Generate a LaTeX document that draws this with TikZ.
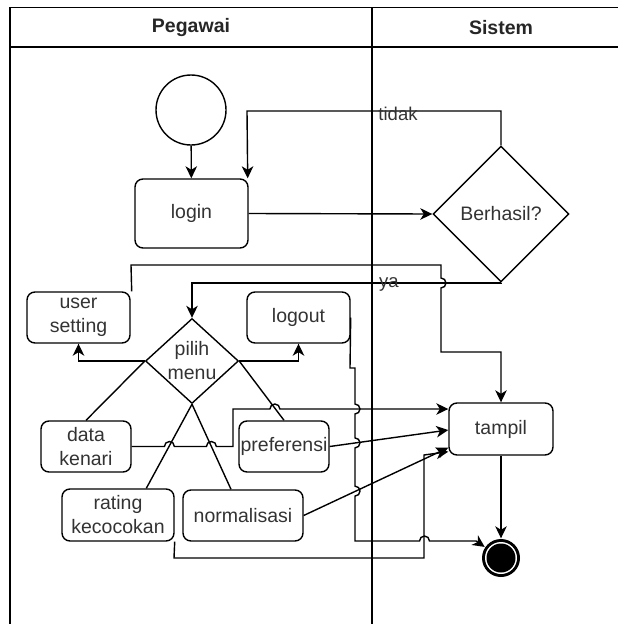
\documentclass[tikz,border=0pt]{standalone}
\usepackage{fontspec}
\setmainfont{Liberation Sans}
\usetikzlibrary{arrows.meta,shapes.geometric}

\begin{document}
\begin{tikzpicture}[x=1pt,y=-1pt,
  line width=1.4pt,
  every node/.style={font=\fontsize{19.5}{24}\selectfont, text=black!80},
  act/.style={draw, rounded corners=8pt, inner sep=0pt, align=center},
  dec/.style={draw, diamond, inner sep=0pt},
  flow/.style={-{Stealth[length=12pt,width=11.5pt,inset=3.5pt]}},
  lane/.style={line width=1.7pt},
  hdr/.style={font=\fontsize{19.5}{24}\selectfont\bfseries, text=black!85},
  elabel/.style={font=\fontsize{18.5}{22}\selectfont, inner sep=0pt, anchor=base},
]
\useasboundingbox (0,0) rectangle (618,624);

% swimlane frame
\begin{scope}
  \clip (0,0) rectangle (618,624);
  \draw[lane] (10,640) -- (10,7.5) -- (640,7.5);
  \draw[lane] (10,47) -- (640,47);
  \draw[lane] (372,7.5) -- (372,640);
\end{scope}
\node[hdr] (hpeg) at (191,27.5) {Pegawai};
\node[hdr] (hsis) at (501,27.5) {Sistem};

% activities
\node[draw, circle, minimum size=70pt, inner sep=0pt] (start) at (191,110) {};
\node[act, minimum width=113pt, minimum height=69pt] (login) at (191.5,213.5) {login};
\node[dec, minimum width=136pt, minimum height=136pt,
      label={[inner sep=0pt]center:Berhasil?}] (cek) at (501,214) {};
\node[act, minimum width=103pt, minimum height=51pt] (user) at (78.5,317.5) {user\\setting};
\node[act, minimum width=103pt, minimum height=51pt] (logout) at (298.5,317.5) {logout};
\node[dec, minimum width=93pt, minimum height=85pt,
      label={[inner sep=0pt, align=center]center:{pilih\\menu}}] (menu) at (192,361) {};
\node[act, minimum width=90pt, minimum height=51pt] (kenari) at (86,446.5) {data\\kenari};
\node[act, minimum width=90pt, minimum height=51pt] (pref) at (284,446.5) {preferensi};
\node[act, minimum width=112pt, minimum height=52pt] (rating) at (118,515) {rating\\kecocokan};
\node[act, minimum width=120pt, minimum height=51pt] (norm) at (243,515.5) {normalisasi};
\node[act, minimum width=104pt, minimum height=52pt] (tampil) at (501,429) {tampil};
\node[circle, fill=black, minimum size=38pt, inner sep=0pt,
      path picture={
        \fill[white] (path picture bounding box.center) circle[radius=16pt];
        \fill[black] (path picture bounding box.center) circle[radius=14.5pt];}] (end) at (501,558) {};

% flows
\draw[flow] (start) -- (login);
\draw[flow] (login.east) -- (cek.west);
\draw[flow] (cek.north) -- (501,111) -- (247,111) -- ([xshift=-1pt]login.north east);
\node[elabel] (ltidak) at (398,120) {tidak};
\draw[flow] (cek.south) -- (501,283) -- (192,283) -- (menu.north);
\node[elabel] (lya) at (389,287) {ya};

\draw[flow] ([xshift=1pt]user.north east) -- (131,265) -- (441,265) -- (441,278)
  arc[start angle=90, end angle=-90, radius=5pt] -- (441,352) -- (501,352) -- (tampil.north);

\draw[flow] (menu.west) -| (user.south);
\draw[flow] (menu.east) -| (logout.south);

\draw (menu.west) -- (kenari.north);
\draw (menu.east) -- (pref.north);
\draw (menu.south) -- ([xshift=85pt]rating.north west);
\draw (menu.south) -- ([xshift=-12pt]norm.north);

\draw[flow] (kenari.east) -- (164.4,446.5)
  arc[start angle=180, end angle=0, radius=5pt] -- (206.4,446.5)
  arc[start angle=180, end angle=0, radius=5pt] -- (233,446.5) -- (233,409) -- (269.9,409)
  arc[start angle=180, end angle=0, radius=5pt] -- ([yshift=20pt]tampil.west);
\draw[flow] (pref.east) -- ([yshift=-1pt]tampil.west);
\draw[flow] (norm.east) -- ([yshift=8pt]tampil.south west);
\draw[flow] (rating.south east) -- (174,558) -- (424,558) -- (424,455) -- ([yshift=4pt]tampil.south west);

\draw[flow] (logout.east) -- (350,368) -- (355,368) -- (355,404)
  arc[start angle=90, end angle=-90, radius=5pt] -- (355,437.9)
  arc[start angle=90, end angle=-90, radius=5pt] -- (355,486.1)
  arc[start angle=90, end angle=-90, radius=5pt] -- (355,541) -- (419.5,541)
  arc[start angle=180, end angle=0, radius=5pt] -- (476,541) -- (end);

\draw[flow] (tampil.south) -- (end.north);
\end{tikzpicture}
\end{document}
